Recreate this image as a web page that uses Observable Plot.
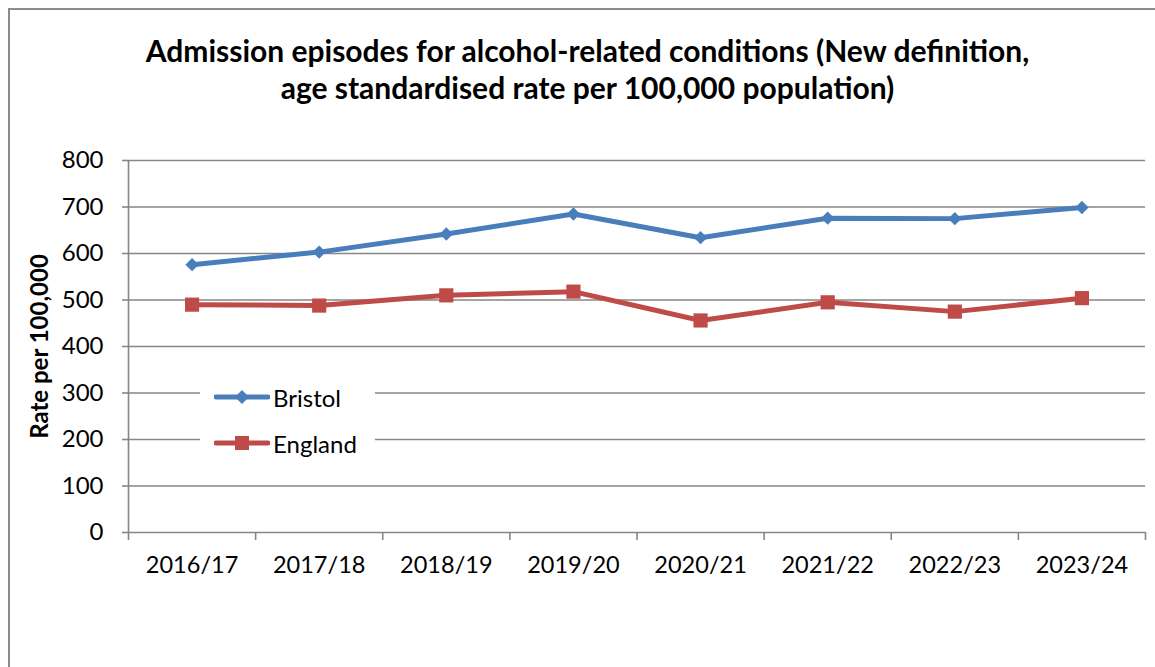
<!DOCTYPE html>
<html><head><meta charset="utf-8">
<script src="https://cdn.jsdelivr.net/npm/d3@7"></script>
<script src="https://cdn.jsdelivr.net/npm/@observablehq/plot@0.6"></script>
<style>
body{margin:0;background:#fff;font-family:Lato, "Open Sans", sans-serif;}
#wrap{position:relative;width:1155px;height:667px;overflow:hidden;}
#frame{position:absolute;left:8px;top:8px;width:1200px;height:700px;border-left:2px solid #8c8c8c;border-top:2px solid #8c8c8c;}
#title{position:absolute;left:0;top:32px;width:1175px;text-align:center;font-weight:bold;font-size:30px;line-height:37px;color:#000;}
#chart{position:absolute;left:0;top:130px;}
#legend{position:absolute;left:200px;top:375px;width:175px;height:90px;background:#fff;}
.item{position:absolute;left:14px;height:30px;display:flex;align-items:center;font-size:24px;color:#000;}
.item svg{margin-right:3px;}
</style>
</head><body>
<div id="wrap">
  <div id="frame"></div>
  <div id="title">Admission episodes for alcohol-related conditions (New definition,<br>age standardised rate per 100,000 population)</div>
  <div id="chart"></div>
  <div id="legend">
    <div class="item" style="top:7px"><svg width="56" height="20"><line x1="2" x2="54" y1="10" y2="10" stroke="#4A7EBB" stroke-width="5" stroke-linecap="round"/><path d="M28,3L35,10L28,17L21,10Z" fill="#4A7EBB"/></svg>Bristol</div>
    <div class="item" style="top:53px"><svg width="56" height="20"><line x1="2" x2="54" y1="10" y2="10" stroke="#BE4B48" stroke-width="5" stroke-linecap="round"/><rect x="21" y="3" width="14" height="14" fill="#BE4B48"/></svg>England</div>
  </div>
</div>
<script>
const categories = ["2016/17","2017/18","2018/19","2019/20","2020/21","2021/22","2022/23","2023/24"];
const bristol = [576, 603, 642, 685, 634, 676, 675, 699];
const england = [490, 488, 510, 518, 456, 495, 475, 504];
const yTicks = [0,100,200,300,400,500,600,700,800];

const rows = (vals, name) => vals.map((v, i) => ({series: name, pos: i + 0.5, value: v}));
const bristolData = rows(bristol, "Bristol");
const englandData = rows(england, "England");
const grid = "#868686";

const chart = Plot.plot({
  width: 1155,
  height: 537,
  marginTop: 30,
  marginBottom: 135,
  marginLeft: 128,
  marginRight: 10,
  style: {fontFamily: "Lato, 'Open Sans', sans-serif", background: "transparent"},
  x: {domain: [0, categories.length]},
  y: {domain: [0, 800]},
  marks: [
    Plot.ruleY(yTicks, {stroke: grid, strokeWidth: 1.6}),
    Plot.ruleX([0], {stroke: grid, strokeWidth: 1.6}),
    Plot.axisY({ticks: yTicks, tickSize: 6, tickPadding: 19, fontSize: 24, stroke: grid, strokeWidth: 1.6, color: "#000", label: null}),
    Plot.axisX({ticks: d3.range(categories.length + 1), tickSize: 8, tickFormat: () => "", stroke: grid, strokeWidth: 1.6, label: null}),
    Plot.axisX({ticks: categories.map((c, i) => i + 0.5), tickSize: 0, tickPadding: 24, fontSize: 23.5, tickFormat: d => categories[Math.floor(d)], color: "#000", label: null}),
    Plot.text(["Rate per 100,000"], {frameAnchor: "left", textAnchor: "middle", dx: -88, rotate: -90, fontSize: 24, fontWeight: "bold", fill: "#000"}),
    Plot.line(bristolData, {x: "pos", y: "value", stroke: "#4A7EBB", strokeWidth: 5}),
    Plot.line(englandData, {x: "pos", y: "value", stroke: "#BE4B48", strokeWidth: 5}),
    Plot.dot(bristolData, {x: "pos", y: "value", symbol: "diamond2", r: 6, fill: "#4A7EBB", stroke: "none"}),
    Plot.dot(englandData, {x: "pos", y: "value", symbol: "square", r: 8, fill: "#BE4B48", stroke: "none"})
  ]
});
document.getElementById("chart").appendChild(chart);
</script>
</body></html>
